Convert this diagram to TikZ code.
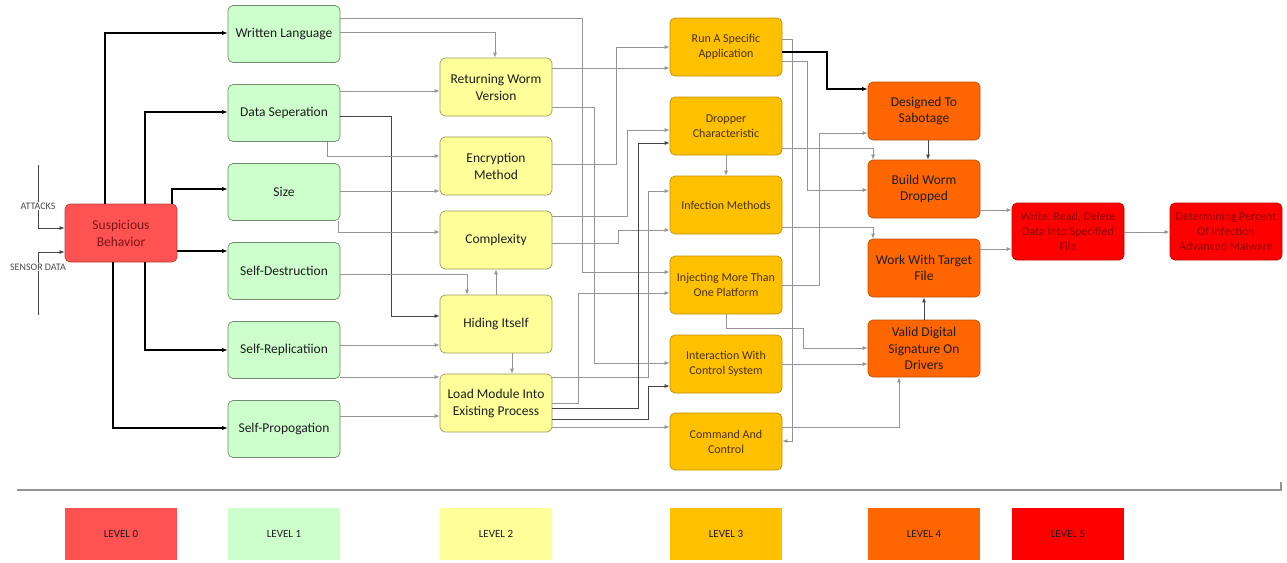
\documentclass[tikz,border=0pt]{standalone}
\usepackage{fontspec}
\setmainfont{Carlito}
\usetikzlibrary{arrows.meta}
\definecolor{cz}{HTML}{FF5353}
\definecolor{co}{HTML}{CCFFCC}
\definecolor{ct}{HTML}{FFFF99}
\definecolor{ch}{HTML}{FFC000}
\definecolor{cf}{HTML}{FF6600}
\definecolor{cv}{HTML}{FF0000}
\definecolor{lgray}{HTML}{959595}
\definecolor{dgray}{HTML}{454545}
\definecolor{tred}{HTML}{7A1414}
\definecolor{tbrown}{HTML}{4A3300}
\definecolor{tdark}{HTML}{1E1E1E}
\begin{document}
\begin{tikzpicture}[x=1pt,y=-1pt,
  box/.style={draw, rounded corners=5pt, minimum width=112pt, minimum height=58pt, inner sep=2pt, align=center, line width=0.7pt},
  lvz/.style={box, fill=cz, draw=cz!75!black, text=tred, font=\fontsize{13.5}{17}\selectfont},
  lvo/.style={box, fill=co, draw=co!55!black, text=tdark, font=\fontsize{13.5}{17}\selectfont},
  lvt/.style={box, fill=ct, draw=ct!60!black, text=tdark, font=\fontsize{13.5}{17}\selectfont},
  lvh/.style={box, fill=ch, draw=ch!75!black, text=tbrown, font=\fontsize{12}{14.8}\selectfont},
  lvf/.style={box, fill=cf, draw=cf!75!black, text=tdark, font=\fontsize{13.5}{16.7}\selectfont},
  lvv/.style={box, fill=cv, draw=cv!75!black, text=cv!55!black, font=\fontsize{12}{14.8}\selectfont},
  legend/.style={minimum width=112pt, minimum height=52pt, inner sep=0pt, text=tdark, font=\fontsize{11}{12}\selectfont},
  lab/.style={fill=white, inner sep=1pt, text=tdark!80, font=\fontsize{10}{11}\selectfont},
  conn/.style={draw=lgray, line width=0.8pt, -{Latex[length=5pt,width=4pt]}},
  connd/.style={draw=dgray, line width=0.9pt, -{Latex[length=5pt,width=4pt]}},
  connk/.style={draw=black, line width=1.1pt, -{Latex[length=5.5pt,width=4.5pt]}}
]
\useasboundingbox (0,0) rectangle (1287,562);

% level 0
\node[lvz] (sb) at (121,233) {Suspicious\\Behavior};
% level 1
\node[lvo, minimum height=57pt] (wl) at (284,34) {Written Language};
\node[lvo, minimum height=57pt] (ds) at (284,113) {Data Seperation};
\node[lvo, minimum height=57pt] (sz) at (284,192) {Size};
\node[lvo, minimum height=57pt] (sd) at (284,271) {Self-Destruction};
\node[lvo, minimum height=57pt] (sr) at (284,350) {Self-Replicatiion};
\node[lvo, minimum height=57pt] (sp) at (284,429) {Self-Propogation};
% level 2
\node[lvt] (rw) at (496,87) {Returning Worm\\Version};
\node[lvt] (em) at (496,166) {Encryption\\Method};
\node[lvt] (cx) at (496,240) {Complexity};
\node[lvt] (hi) at (496,324) {Hiding Itself};
\node[lvt] (lm) at (496,403) {Load Module Into\\Existing Process};
% level 3
\node[lvh] (ra) at (726,47) {Run A Specific\\Application};
\node[lvh] (dc) at (726,126) {Dropper\\Characteristic};
\node[lvh] (im) at (726,205) {Infection Methods};
\node[lvh] (ij) at (726,285) {Injecting More Than\\One Platform};
\node[lvh] (ic) at (726,364) {Interaction With\\Control System};
\node[lvh, minimum height=57pt] (cc) at (726,441.5) {Command And\\Control};
% level 4
\node[lvf] (dt) at (924,111) {Designed To\\Sabotage};
\node[lvf] (bw) at (924,189) {Build Worm\\Dropped};
\node[lvf] (wt) at (924,268) {Work With Target\\File};
\node[lvf, minimum height=57pt] (vd) at (924,348.5) {Valid Digital\\Signature On\\Drivers};
% level 5
\node[lvv, minimum height=57pt] (wr) at (1068,231.5) {Write, Read, Delete\\Data Into Specified\\File};
\node[lvv, minimum height=57pt] (dp) at (1226,231.5) {Determining Percent\\Of Infection\\Advanced Malware};

% inputs
\coordinate (att) at (38,165);
\coordinate (sen) at (38,315);
\draw[connd] (att) |- (sb.west |- 0,228);
\draw[connd] (sen) |- (sb.west |- 0,252);
\node[lab] (attl) at (38,206) {ATTACKS};
\node[lab] (senl) at (38,267) {SENSOR DATA};

% level 0 -> level 1
\draw[connk] (sb.north -| 105,0) |- (wl.west |- 0,33);
\draw[connk] (sb.north -| 145,0) |- (ds.west |- 0,112);
\draw[connk] (sb.north -| 172,0) |- (sz.west |- 0,189);
\draw[connk] (sb.east |- 0,251) -- (sd.west |- 0,251);
\draw[connk] (sb.south -| 145,0) |- (sr.west |- 0,350);
\draw[connk] (sb.south -| 113,0) |- (sp.west |- 0,428);

% level 1 -> level 2
\draw[conn] (wl.east |- 0,18) -| (582,272) -- (ij.west |- 0,272);
\draw[conn] (wl.east |- 0,32) -| (rw.north -| 495,0);
\draw[conn] (ds.east |- 0,91) -- (rw.west |- 0,91);
\draw[connd] (ds.east |- 0,116) -| (391,316) -- (hi.west |- 0,316);
\draw[conn] (ds.south -| 327,0) |- (em.west |- 0,156);
\draw[conn] (sz.east |- 0,191) -- (em.west |- 0,191);
\draw[conn] (sz.south -| 338,0) |- (cx.west |- 0,232);
\draw[conn] (sd.east |- 0,274) -| (hi.north -| 467,0);
\draw[conn] (hi.north -| 496,0) -- (cx.south -| 496,0);
\draw[conn] (sr.east |- 0,345) -- (hi.west |- 0,345);
\draw[conn] (sr.east |- 0,377) -- (lm.west |- 0,377);
\draw[conn] (sp.east |- 0,416) -- (lm.west |- 0,416);
\draw[conn] (hi.south -| 512,0) -- (lm.north -| 512,0);

% level 2 -> level 3
\draw[conn] (rw.east |- 0,68) -- (ra.west |- 0,68);
\draw[conn] (rw.east |- 0,107) -| (594,363) -- (ic.west |- 0,363);
\draw[conn] (em.east |- 0,164) -| (616,47) -- (ra.west |- 0,47);
\draw[conn] (cx.east |- 0,216) -| (627,130) -- (dc.west |- 0,130);
\draw[conn] (cx.east |- 0,243) -| (618,230) -- (im.west |- 0,230);
\draw[conn] (lm.east |- 0,377) -| (648,191) -- (im.west |- 0,191);
\draw[conn] (lm.east |- 0,403) -| (578,293) -- (ij.west |- 0,293);
\draw[connd] (lm.east |- 0,408) -| (638,143) -- (dc.west |- 0,143);
\draw[connd] (lm.east |- 0,419) -| (648,386) -- (ic.west |- 0,386);
\draw[conn] (lm.east |- 0,427) -- (cc.west |- 0,427);
\draw[conn] (dc.south) -- (im.north);

% level 3 -> level 4
\draw[conn] (ra.east |- 0,39) -| (792,441) -- (cc.east |- 0,441);
\draw[connk] (ra.east |- 0,52) -| (827,89) -- (dt.west |- 0,89);
\draw[conn] (ra.east |- 0,61) -| (807,190) -- (bw.west |- 0,190);
\draw[conn] (ij.east |- 0,285) -| (819,133) -- (dt.west |- 0,133);
\draw[conn] (dc.east |- 0,148) -| (bw.north -| 873,0);
\draw[conn] (im.east |- 0,227) -| (wt.north -| 873,0);
\draw[conn] (ij.south) |- (803,328) |- (vd.west |- 0,348);
\draw[conn] (ic.east |- 0,364) -- (vd.west |- 0,364);
\draw[conn] (cc.east |- 0,427) -| (vd.south -| 899,0);
\draw[connd] (dt.south -| 928,0) -- (bw.north -| 928,0);
\draw[connd] (vd.north) -- (wt.south);

% level 4 -> level 5
\draw[conn] (bw.east |- 0,210) -- (wr.west |- 0,210);
\draw[conn] (wt.east |- 0,249) -- (wr.west |- 0,249);
\draw[conn] (wr.east |- 0,232) -- (dp.west |- 0,232);

% separator
\draw[draw=lgray, line width=1.6pt] (17,490) -- (1281,490) -- (1281,482);

% legend
\node[legend, fill=cz] (k0) at (121,534) {LEVEL 0};
\node[legend, fill=co] (k1) at (284,534) {LEVEL 1};
\node[legend, fill=ct] (k2) at (496,534) {LEVEL 2};
\node[legend, fill=ch] (k3) at (726,534) {LEVEL 3};
\node[legend, fill=cf] (k4) at (924,534) {LEVEL 4};
\node[legend, fill=cv] (k5) at (1068,534) {LEVEL 5};
\end{tikzpicture}
\end{document}
